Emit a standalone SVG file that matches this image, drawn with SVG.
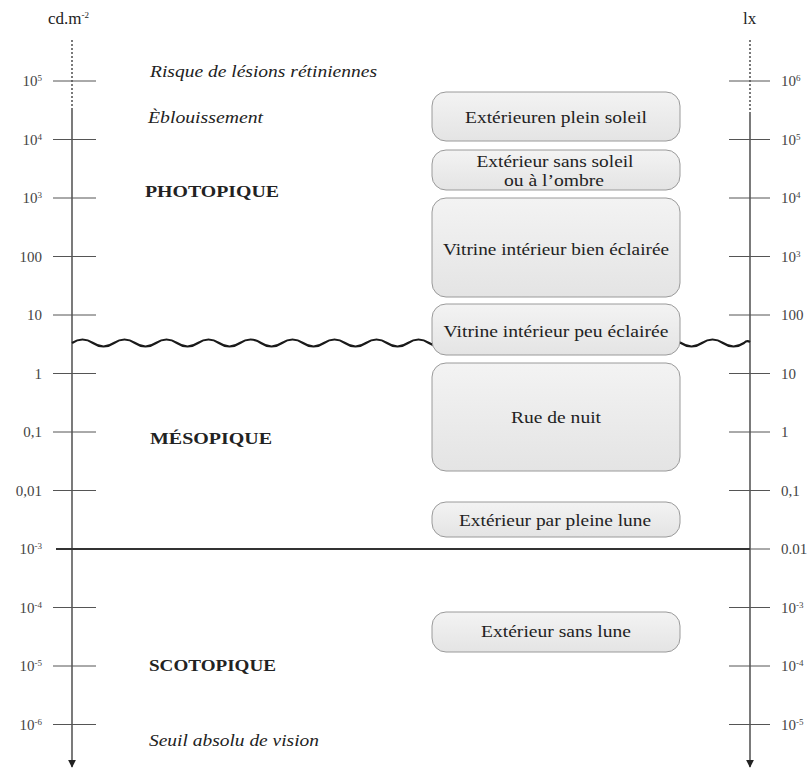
<svg xmlns="http://www.w3.org/2000/svg" width="812" height="769" viewBox="0 0 812 769" font-family="'Liberation Serif', 'Times New Roman', serif">
<defs>
<linearGradient id="g" x1="0" y1="0" x2="0" y2="1">
<stop offset="0" stop-color="#f3f3f3"/>
<stop offset="1" stop-color="#e4e4e4"/>
</linearGradient>
<marker id="arr" viewBox="0 0 10 10" refX="9" refY="5" markerWidth="8" markerHeight="8" markerUnits="userSpaceOnUse" orient="auto">
<path d="M0,0 L10,5 L0,10 z" fill="#222"/>
</marker>
<style>
text{font-family:'Liberation Serif','Times New Roman',serif;fill:#222;}
.ax{font-size:15px;fill:#444;}
.sup{font-size:9px;}
.it{font-size:17px;font-style:italic;}
.bd{font-size:17px;font-weight:bold;}
.bx{font-size:17px;}
.box{fill:url(#g);stroke:#9a9a9a;stroke-width:1;}
.tick{stroke:#555;stroke-width:1;}
.axis{stroke:#333;stroke-width:1.3;fill:none;}
.dot{stroke:#333;stroke-width:1.3;stroke-dasharray:2 2;fill:none;}
</style>
</defs>
<rect width="812" height="769" fill="#fff"/>

<g id="connectors">
<line class="dot" x1="72" y1="40" x2="72" y2="108"/>
<line class="axis" x1="72" y1="108" x2="72" y2="767" marker-end="url(#arr)"/>
<line class="dot" x1="750" y1="40" x2="750" y2="113"/>
<line class="axis" x1="750" y1="113" x2="750" y2="767" marker-end="url(#arr)"/>
<g id="ticks-left">
<line class="tick" x1="53" y1="81" x2="96" y2="81"/>
<line class="tick" x1="53" y1="139.5" x2="96" y2="139.5"/>
<line class="tick" x1="53" y1="198" x2="96" y2="198"/>
<line class="tick" x1="53" y1="256.5" x2="96" y2="256.5"/>
<line class="tick" x1="53" y1="315" x2="96" y2="315"/>
<line class="tick" x1="53" y1="373.5" x2="96" y2="373.5"/>
<line class="tick" x1="53" y1="432" x2="96" y2="432"/>
<line class="tick" x1="53" y1="490.5" x2="96" y2="490.5"/>
<line class="tick" x1="53" y1="607.5" x2="96" y2="607.5"/>
<line class="tick" x1="53" y1="666" x2="96" y2="666"/>
<line class="tick" x1="53" y1="724.5" x2="96" y2="724.5"/>
</g>
<g id="ticks-right">
<line class="tick" x1="729" y1="81" x2="770" y2="81"/>
<line class="tick" x1="729" y1="139.5" x2="770" y2="139.5"/>
<line class="tick" x1="729" y1="198" x2="770" y2="198"/>
<line class="tick" x1="729" y1="256.5" x2="770" y2="256.5"/>
<line class="tick" x1="729" y1="315" x2="770" y2="315"/>
<line class="tick" x1="729" y1="373.5" x2="770" y2="373.5"/>
<line class="tick" x1="729" y1="432" x2="770" y2="432"/>
<line class="tick" x1="729" y1="490.5" x2="770" y2="490.5"/>
<line class="tick" x1="729" y1="549" x2="770" y2="549"/>
<line class="tick" x1="729" y1="607.5" x2="770" y2="607.5"/>
<line class="tick" x1="729" y1="666" x2="770" y2="666"/>
<line class="tick" x1="729" y1="724.5" x2="770" y2="724.5"/>
</g>
<line x1="56" y1="549" x2="750" y2="549" stroke="#333" stroke-width="2"/>
<path d="M72,343 q10.5,-7 21,0 t21,0 t21,0 t21,0 t21,0 t21,0 t21,0 t21,0 t21,0 t21,0 t21,0 t21,0 t21,0 t21,0 t21,0 t21,0 t21,0 t21,0 t21,0 t21,0 t21,0 t21,0 t21,0 t21,0 t21,0 t21,0 t21,0 t21,0 t21,0 t21,0 t21,0 t21,0 q3,-3 6,-1" fill="none" stroke="#1a1a1a" stroke-width="2.2"/>
</g>

<g id="axis-labels">
<text x="48" y="24" style="font-size:17px">cd.m<tspan class="sup" dy="-6">-2</tspan></text>
<text x="743" y="24" style="font-size:17px">lx</text>
<g text-anchor="end">
<text class="ax" x="42" y="86">10<tspan class="sup" dy="-5">5</tspan></text>
<text class="ax" x="42" y="144.5">10<tspan class="sup" dy="-5">4</tspan></text>
<text class="ax" x="42" y="203">10<tspan class="sup" dy="-5">3</tspan></text>
<text class="ax" x="42" y="261.5">100</text>
<text class="ax" x="42" y="320">10</text>
<text class="ax" x="42" y="378.5">1</text>
<text class="ax" x="42" y="437">0,1</text>
<text class="ax" x="42" y="495.5">0,01</text>
<text class="ax" x="42" y="554">10<tspan class="sup" dy="-5">-3</tspan></text>
<text class="ax" x="42" y="612.5">10<tspan class="sup" dy="-5">-4</tspan></text>
<text class="ax" x="42" y="671">10<tspan class="sup" dy="-5">-5</tspan></text>
<text class="ax" x="42" y="729.5">10<tspan class="sup" dy="-5">-6</tspan></text>
</g>
<text class="ax" x="781" y="86">10<tspan class="sup" dy="-5">6</tspan></text>
<text class="ax" x="781" y="144.5">10<tspan class="sup" dy="-5">5</tspan></text>
<text class="ax" x="781" y="203">10<tspan class="sup" dy="-5">4</tspan></text>
<text class="ax" x="781" y="261.5">10<tspan class="sup" dy="-5">3</tspan></text>
<text class="ax" x="781" y="320">100</text>
<text class="ax" x="781" y="378.5">10</text>
<text class="ax" x="781" y="437">1</text>
<text class="ax" x="781" y="495.5">0,1</text>
<text class="ax" x="781" y="554">0.01</text>
<text class="ax" x="781" y="612.5">10<tspan class="sup" dy="-5">-3</tspan></text>
<text class="ax" x="781" y="671">10<tspan class="sup" dy="-5">-4</tspan></text>
<text class="ax" x="781" y="729.5">10<tspan class="sup" dy="-5">-5</tspan></text>
</g>

<g id="zone-labels">
<text class="it" x="150" y="77" textLength="227" lengthAdjust="spacingAndGlyphs">Risque de lésions rétiniennes</text>
<text class="it" x="148" y="123" textLength="115" lengthAdjust="spacingAndGlyphs">Èblouissement</text>
<text class="bd" x="145" y="197" textLength="134" lengthAdjust="spacingAndGlyphs">PHOTOPIQUE</text>
<text class="bd" x="150" y="444" textLength="122" lengthAdjust="spacingAndGlyphs">MÉSOPIQUE</text>
<text class="bd" x="149" y="671" textLength="127" lengthAdjust="spacingAndGlyphs">SCOTOPIQUE</text>
<text class="it" x="149" y="746" textLength="170" lengthAdjust="spacingAndGlyphs">Seuil absolu de vision</text>
</g>

<g id="box1"><rect class="box" x="432" y="92" width="248" height="49" rx="14"/>
<text class="bx" x="556" y="123" text-anchor="middle" textLength="182" lengthAdjust="spacingAndGlyphs">Extérieuren plein soleil</text></g>
<g id="box2"><rect class="box" x="432" y="150" width="248" height="40" rx="14"/>
<text class="bx" x="555" y="167" text-anchor="middle" textLength="157" lengthAdjust="spacingAndGlyphs">Extérieur sans soleil</text>
<text class="bx" x="554" y="186" text-anchor="middle" textLength="100" lengthAdjust="spacingAndGlyphs">ou à l’ombre</text></g>
<g id="box3"><rect class="box" x="432" y="198" width="248" height="99" rx="14"/>
<text class="bx" x="556" y="255" text-anchor="middle" textLength="226" lengthAdjust="spacingAndGlyphs">Vitrine intérieur bien éclairée</text></g>
<g id="box4"><rect class="box" x="432" y="304" width="248" height="51" rx="14"/>
<text class="bx" x="556" y="337" text-anchor="middle" textLength="225" lengthAdjust="spacingAndGlyphs">Vitrine intérieur peu éclairée</text></g>
<g id="box5"><rect class="box" x="432" y="363" width="248" height="108" rx="14"/>
<text class="bx" x="556" y="423" text-anchor="middle" textLength="90" lengthAdjust="spacingAndGlyphs">Rue de nuit</text></g>
<g id="box6"><rect class="box" x="432" y="502" width="248" height="35" rx="14"/>
<text class="bx" x="555" y="526" text-anchor="middle" textLength="192" lengthAdjust="spacingAndGlyphs">Extérieur par pleine lune</text></g>
<g id="box7"><rect class="box" x="432" y="612" width="248" height="40" rx="14"/>
<text class="bx" x="556" y="637" text-anchor="middle" textLength="150" lengthAdjust="spacingAndGlyphs">Extérieur sans lune</text></g>
</svg>
